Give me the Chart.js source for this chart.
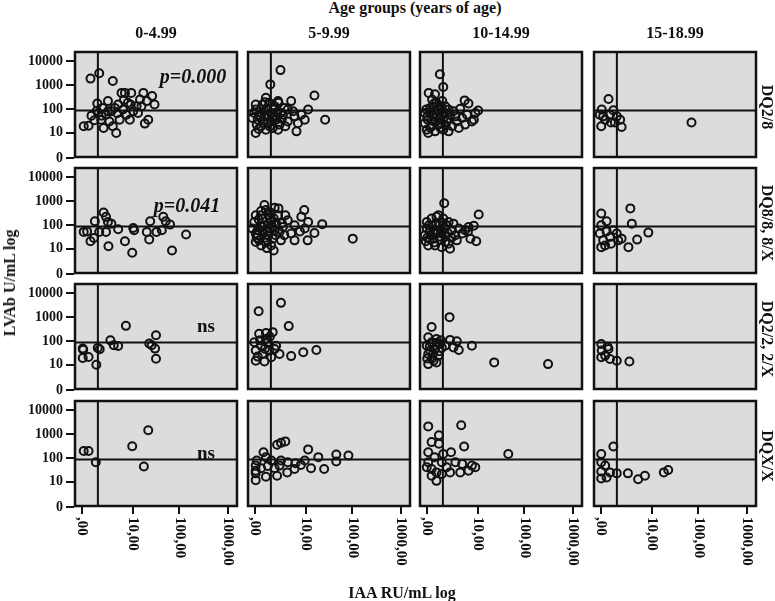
<!DOCTYPE html>
<html>
<head>
<meta charset="utf-8">
<script src="https://cdn.jsdelivr.net/npm/chart.js@4.4.1/dist/chart.umd.min.js"></script>
<style>
  body { margin: 0; background: #fff; width: 775px; height: 601px; position: relative; overflow: hidden;
         font-family: "Liberation Serif", "Times New Roman", serif; color: #111; }
  canvas { position: absolute; }
  .t { position: absolute; font-weight: bold; white-space: nowrap; transform: translate(-50%, -50%); }
</style>
</head>
<body>
<script>
const ageGroups = ["0-4.99", "5-9.99", "10-14.99", "15-18.99"];
const genotypes = ["DQ2/8", "DQ8/8, 8/X", "DQ2/2, 2/X", "DQX/X"];
const pLabels = ["p=0.000", "p=0.041", "ns", "ns"];
const yTickValues = [0, 10, 100, 1000, 10000];
const yTickLabels = ["0", "10", "100", "1000", "10000"];
const xTickValues = [0, 10, 100, 1000];
const xTickLabels = [",00", "10,00", "100,00", "1000,00"];
const iaaCutoff = 1.1;   // RU/mL
const lvabCutoff = 90;   // U/mL

// points are [IAA, LVAb], already on the log10(value + 1) axes
const dq28_0 = [[0.17,3.28],[0.35,3.5],[0.63,3.18],[0.03,1.31],[0.13,1.33],[0.31,2.25],[0.19,1.75],[0.25,1.56],[0.33,1.86],[0.39,1.58],
  [0.44,1.24],[0.53,2.35],[0.49,1.79],[0.56,1.51],[0.6,1.93],[0.7,1.03],[0.63,1.31],[0.74,2.21],[0.77,1.58],[0.81,2.69],
  [0.88,2.69],[0.84,2.0],[0.94,2.28],[0.98,1.58],[1.01,2.69],[1.05,1.93],[1.12,2.14],[1.19,2.42],[1.22,2.14],[1.26,2.69],
  [1.33,2.35],[1.36,1.58],[1.29,1.42],[1.44,2.56],[1.49,2.21],[1.15,1.86],[0.67,2.07],[0.91,1.79],[0.42,2.07],[0.53,1.93],
  [0.3,1.95],[0.4,1.75],[0.72,1.85],[1.0,2.2],[0.86,2.4]];
const dq28_5 = [[0.52,3.63],[0.31,3.04],[1.22,2.58],[1.44,1.58],[0.85,1.1],[0.01,1.03],[0.74,2.35],[1.09,2.0],[1.02,1.58],[0.95,1.79],
  [0.81,1.72],[0.67,2.0],[0.47,2.35],[0.22,2.49],[0.01,2.21],[-0.02,1.86],[0.05,1.58],[0.12,2.0],[0.19,1.72],[0.26,1.44],
  [0.33,1.86],[0.4,2.14],[0.43,1.58],[0.5,1.38],[0.57,1.79],[0.6,2.07],[0.12,1.31],[0.03,1.38],[0.22,1.17],[0.36,1.24],
  [0.29,2.28],[0.15,2.21],[0.08,1.79],[0.53,1.86],[0.48,2.28],[-0.06,1.65],[0.4,1.72],[0.26,1.72],[0.19,1.93],[0.01,2.0],
  [0.33,1.51],[0.47,1.17],[0.67,1.51],[0.78,1.93],[0.88,1.44],[0.62,1.31],[0.07,1.2],[0.16,1.55],[0.24,2.05],[0.3,1.3],
  [0.38,2.0],[0.45,1.9],[0.55,1.62],[0.1,1.7],[0.2,2.3],[0.35,1.65]];
const dq28_10 = [[0.26,3.46],[0.33,2.93],[0.03,2.69],[0.16,2.63],[0.77,2.38],[0.85,2.25],[1.05,1.96],[0.96,1.58],[0.68,2.03],[0.58,1.72],
  [0.65,1.24],[0.44,1.1],[0.02,1.03],[-0.05,1.86],[0.01,1.58],[0.06,2.07],[0.13,1.72],[0.19,2.28],[0.23,1.38],[0.3,1.86],
  [0.37,2.14],[0.4,1.51],[0.47,1.79],[0.51,1.31],[0.09,1.31],[-0.01,1.17],[0.16,1.1],[0.26,1.65],[0.33,1.17],[0.54,1.93],
  [0.72,1.65],[0.82,1.79],[0.92,1.51],[0.99,1.86],[0.61,1.51],[0.44,2.0],[0.22,2.0],[0.1,2.42],[-0.05,1.44],[0.31,2.35],
  [0.78,1.38],[0.05,1.9],[0.15,1.5],[0.2,1.8],[0.28,1.45],[0.12,2.1],[0.35,1.7],[0.0,1.7],[0.25,2.15],[0.06,1.25],
  [0.18,1.95],[0.27,1.25],[0.38,1.35],[0.08,1.55],[0.3,2.05],[-0.02,2.0],[0.14,2.25],[0.42,1.6]];
const dq28_15 = [[0.15,2.44],[0.01,2.0],[0.0,1.31],[0.08,1.58],[0.18,1.79],[0.25,1.97],[0.32,1.72],[0.39,1.58],[0.42,1.28],[0.2,1.47],
  [0.04,1.72],[0.28,1.47],[1.86,1.47],[-0.03,1.79]];

const dq88_0 = [[0.03,1.74],[0.1,1.76],[0.17,1.35],[0.24,1.49],[0.26,2.18],[0.44,2.54],[0.49,2.36],[0.53,2.15],[0.35,1.74],[0.49,1.74],
  [0.54,1.15],[0.74,1.85],[0.88,1.35],[1.03,0.88],[1.05,1.9],[1.07,1.81],[1.33,1.74],[1.4,2.18],[1.38,1.43],[1.53,1.74],
  [1.67,2.36],[1.72,2.18],[1.81,2.04],[1.85,0.97],[2.14,1.63],[1.64,1.81],[0.6,2.08]];
const dq88_5 = [[0.4,2.74],[0.31,2.54],[1.01,2.64],[0.95,2.36],[1.38,2.06],[2.01,1.46],[1.22,1.69],[1.08,1.39],[0.92,1.76],[0.81,2.01],
  [0.67,2.22],[0.6,1.6],[0.38,0.97],[0.24,1.07],[0.01,1.32],[-0.02,2.15],[0.05,1.81],[0.12,2.43],[0.19,2.01],[0.26,1.6],
  [0.33,2.15],[0.4,1.81],[0.47,2.43],[0.53,1.39],[0.01,1.67],[0.08,1.39],[0.15,2.29],[0.22,2.64],[0.29,1.88],[0.36,1.46],
  [0.43,2.08],[0.5,1.74],[0.57,1.94],[-0.06,1.88],[0.12,1.18],[0.33,1.18],[0.74,1.67],[0.81,1.39],[1.02,1.88],[1.09,2.15],
  [0.62,2.43],[0.19,2.85],[0.01,2.43],[0.48,2.71],[0.1,2.0],[0.2,1.5],[0.3,2.3],[0.05,1.6],[0.25,1.75],[0.15,1.95],
  [0.07,2.25],[0.17,1.7],[0.27,2.45],[0.35,1.95],[0.42,1.6],[0.55,2.1],[0.03,1.5],[0.22,1.3],[0.12,2.6],[0.38,2.3]];
const dq88_10 = [[0.35,2.92],[1.06,2.46],[0.96,1.99],[1.01,1.35],[0.84,1.76],[0.47,1.04],[-0.01,2.15],[0.06,1.81],[0.13,1.46],[0.19,2.36],
  [0.24,2.01],[0.3,1.67],[0.37,1.32],[0.44,2.15],[0.51,1.81],[0.58,1.6],[0.65,1.88],[0.72,1.67],[0.78,1.81],[0.02,1.18],
  [0.16,1.18],[0.3,1.11],[0.44,1.25],[-0.05,1.6],[0.09,2.29],[0.23,2.43],[0.4,2.01],[0.54,2.08],[0.61,1.39],[0.89,1.46],
  [0.85,1.94],[-0.01,1.88],[0.16,1.67],[0.33,2.29],[0.05,1.45],[0.1,2.0],[0.2,1.75],[0.27,1.4],[0.35,1.9],[0.12,1.7],
  [-0.03,1.35],[0.42,1.7],[0.03,2.0],[0.08,1.6],[0.18,2.1],[0.25,1.55],[0.32,2.1],[0.14,1.3],[0.28,1.85],[0.5,1.5],
  [0.0,1.5],[0.38,1.55]];
const dq88_15 = [[0.0,2.5],[0.11,2.18],[0.6,2.71],[0.63,2.08],[0.97,1.71],[0.74,1.42],[0.56,1.11],[0.0,2.01],[-0.03,1.67],[0.04,1.39],
  [0.0,1.11],[0.11,1.76],[0.18,1.53],[0.25,1.81],[0.32,1.67],[0.42,1.46],[0.08,1.18],[0.2,1.25],[0.35,1.39]];

const dq22_0 = [[0.01,1.71],[0.02,1.66],[0.13,1.36],[0.01,1.32],[0.29,1.04],[0.32,1.74],[0.36,1.68],[0.58,2.05],[0.65,1.85],[0.74,1.82],
  [0.9,2.65],[1.38,1.92],[1.43,1.85],[1.52,2.26],[1.5,1.71],[1.52,1.29]];
const dq22_5 = [[0.53,3.6],[0.07,3.25],[0.69,2.64],[1.26,1.65],[0.99,1.56],[0.74,1.4],[0.5,1.49],[0.19,1.18],[0.01,1.21],[0.36,2.39],
  [0.08,2.32],[0.22,2.35],[-0.02,1.97],[0.12,1.83],[0.26,1.97],[0.4,1.69],[0.01,1.63],[0.15,1.49],[0.29,1.63],[0.43,1.83],
  [0.05,1.38],[0.22,2.11],[0.33,1.35],[0.1,2.05],[0.2,1.7],[0.3,2.2]];
const dq22_10 = [[0.46,3.01],[0.09,2.6],[0.92,1.83],[0.65,1.65],[1.38,1.14],[2.49,1.07],[0.61,2.01],[0.47,2.07],[0.02,2.18],[-0.01,1.83],
  [0.02,1.49],[0.02,1.07],[0.13,1.21],[0.19,2.11],[0.16,1.69],[0.23,1.42],[0.09,1.97],[0.26,1.9],[0.37,1.83],[0.54,1.76],
  [0.06,1.63],[0.19,1.14],[0.1,1.3],[0.25,1.6],[0.05,1.8],[0.2,1.95],[0.3,1.75],[0.12,1.5],[0.0,1.3],[0.28,2.05]];
const dq22_15 = [[0.0,1.9],[0.01,1.63],[0.0,1.35],[0.13,1.79],[0.18,1.28],[0.32,1.21],[0.58,1.18],[0.08,1.42],[0.15,1.69]];

const dqxx_0 = [[0.03,2.31],[0.13,2.31],[0.28,1.85],[1.03,2.51],[1.36,3.17],[1.27,1.67]];
const dqxx_5 = [[0.45,2.57],[0.53,2.65],[0.62,2.71],[1.09,2.38],[1.3,2.06],[1.67,2.17],[1.92,2.13],[1.67,1.88],[1.42,1.57],[1.15,1.6],
  [1.02,1.92],[0.94,1.74],[0.81,1.57],[0.66,1.43],[0.5,1.71],[0.45,1.29],[0.22,1.25],[0.01,1.11],[0.01,1.39],[0.01,1.71],
  [0.03,1.92],[0.17,2.26],[0.22,2.06],[0.33,1.92],[0.53,1.92],[0.4,1.6],[0.12,1.6],[0.26,1.69],[0.67,1.85],[0.83,1.81],[0.01,1.5]];
const dqxx_10 = [[0.02,3.33],[0.7,3.38],[0.24,2.96],[0.09,2.68],[0.24,2.61],[0.76,2.5],[1.67,2.19],[0.49,2.26],[0.19,1.08],[0.02,2.26],
  [0.02,1.85],[0.09,1.57],[0.19,1.43],[0.3,1.85],[0.4,1.64],[0.47,1.43],[0.58,1.85],[0.68,1.43],[0.85,1.5],[0.92,1.71],
  [0.99,1.64],[0.72,1.78],[0.15,2.06],[0.33,2.19],[0.09,1.29],[0.3,1.36],[-0.01,1.64]];
const dqxx_15 = [[0.25,2.5],[0.0,2.19],[0.0,1.85],[0.0,1.47],[0.0,1.18],[0.08,1.71],[0.18,1.43],[0.32,1.39],[0.55,1.39],[0.76,1.15],
  [0.9,1.29],[1.29,1.43],[1.38,1.53],[0.11,1.22]];

const panels = [
  [dq28_0, dq28_5, dq28_10, dq28_15],
  [dq88_0, dq88_5, dq88_10, dq88_15],
  [dq22_0, dq22_5, dq22_10, dq22_15],
  [dqxx_0, dqxx_5, dqxx_10, dqxx_15]
];

const lg = v => Math.log10(v + 1);
const X_MIN = -0.17, X_MAX = 3.21, Y_MIN = 0, Y_MAX = 4.42;
const colLeft = [74, 247, 419, 593];
const rowTop = [51, 167, 283, 400];
const PW = 164, PH = 107, PAD = 12, AXW = 74, AXH = 75;
const INK = "#111";

// grey panel, black frame, and the x tick labels turned clockwise
const panelFrame = {
  id: "panelFrame",
  beforeDraw(chart) {
    const a = chart.chartArea, ctx = chart.ctx;
    ctx.save();
    ctx.fillStyle = "#dcdcdc";
    ctx.fillRect(a.left, a.top, a.right - a.left, a.bottom - a.top);
    ctx.restore();
  },
  afterDraw(chart, args, opts) {
    const a = chart.chartArea, ctx = chart.ctx;
    ctx.save();
    ctx.strokeStyle = INK;
    ctx.lineWidth = 2.5;
    ctx.strokeRect(a.left + 1, a.top + 1, a.right - a.left - 2, a.bottom - a.top - 2);
    if (opts.xLabels) {
      const sx = chart.scales.x;
      ctx.fillStyle = INK;
      ctx.font = "bold 15px 'Liberation Serif'";
      ctx.textAlign = "left";
      ctx.textBaseline = "middle";
      xTickValues.forEach((v, i) => {
        ctx.save();
        ctx.translate(sx.getPixelForValue(lg(v)), a.bottom + 10);
        ctx.rotate(Math.PI / 2);
        ctx.fillText(xTickLabels[i], 0, 0);
        ctx.restore();
      });
    }
    ctx.restore();
  }
};

function makePanel(r, c) {
  const cv = document.createElement("canvas");
  const showX = r === 3, showY = c === 0;
  cv.width = (showY ? AXW : PAD) + PW + PAD;
  cv.height = PAD + PH + (showX ? AXH : PAD);
  cv.style.left = (showY ? 0 : colLeft[c] - PAD) + "px";
  cv.style.top = (rowTop[r] - PAD) + "px";
  document.body.appendChild(cv);

  const tickGrid = { drawOnChartArea: false, drawTicks: true, color: INK, lineWidth: 2 };
  new Chart(cv, {
    type: "scatter",
    data: {
      datasets: [
        { data: panels[r][c].map(p => ({ x: p[0], y: p[1] })),
          pointRadius: 4, pointHoverRadius: 4, pointBorderWidth: 2,
          borderColor: INK, backgroundColor: "rgba(0,0,0,0)" },
        { data: [{ x: lg(iaaCutoff), y: Y_MIN }, { x: lg(iaaCutoff), y: Y_MAX }],
          showLine: true, pointRadius: 0, borderColor: INK, borderWidth: 2 },
        { data: [{ x: X_MIN, y: lg(lvabCutoff) }, { x: X_MAX, y: lg(lvabCutoff) }],
          showLine: true, pointRadius: 0, borderColor: INK, borderWidth: 2 }
      ]
    },
    options: {
      responsive: false,
      animation: false,
      devicePixelRatio: 1,
      layout: { padding: { left: showY ? 0 : PAD, top: PAD, right: PAD, bottom: showX ? 0 : PAD } },
      plugins: { legend: { display: false }, tooltip: { enabled: false }, panelFrame: { xLabels: showX } },
      scales: {
        x: {
          type: "linear", min: X_MIN, max: X_MAX, display: showX,
          afterBuildTicks: s => { s.ticks = xTickValues.map(v => ({ value: lg(v) })); },
          afterFit: s => { if (showX) s.height = AXH; },
          ticks: { display: false },
          grid: { ...tickGrid, tickLength: 7 },
          border: { display: false }
        },
        y: {
          type: "linear", min: Y_MIN, max: Y_MAX, display: showY,
          afterBuildTicks: s => { s.ticks = yTickValues.map(v => ({ value: lg(v) })); },
          afterFit: s => { if (showY) s.width = AXW; },
          ticks: { color: INK, padding: 3, autoSkip: false,
                   font: { family: "Liberation Serif", size: 14, weight: "bold" },
                   callback: (v, i) => yTickLabels[i] },
          grid: { ...tickGrid, tickLength: 8 },
          border: { display: false }
        }
      }
    },
    plugins: [panelFrame]
  });
}

function addText(txt, x, y, size, extra) {
  const d = document.createElement("div");
  d.className = "t";
  d.textContent = txt;
  d.style.left = x + "px";
  d.style.top = y + "px";
  d.style.fontSize = size + "px";
  if (extra) Object.assign(d.style, extra);
  document.body.appendChild(d);
}

for (let r = 0; r < 4; r++) for (let c = 0; c < 4; c++) makePanel(r, c);

addText("Age groups (years of age)", 415, 8, 16);
ageGroups.forEach((g, c) => addText(g, colLeft[c] + PW / 2, 33, 16));
genotypes.forEach((g, r) => addText(g, 767, rowTop[r] + PH / 2 + 2, 16, { transform: "translate(-50%,-50%) rotate(90deg)" }));
addText("LVAb U/mL log", 10, 283, 16, { transform: "translate(-50%,-50%) rotate(-90deg)" });
addText("IAA RU/mL log", 402, 593, 16);

const pPos = [[193, 76], [187, 205], [206, 326], [206, 453]];
pLabels.forEach((p, r) => {
  const ital = p.startsWith("p");
  addText(p, pPos[r][0], pPos[r][1], ital ? 20 : 19, ital ? { fontStyle: "italic" } : null);
});
</script>
</body>
</html>
